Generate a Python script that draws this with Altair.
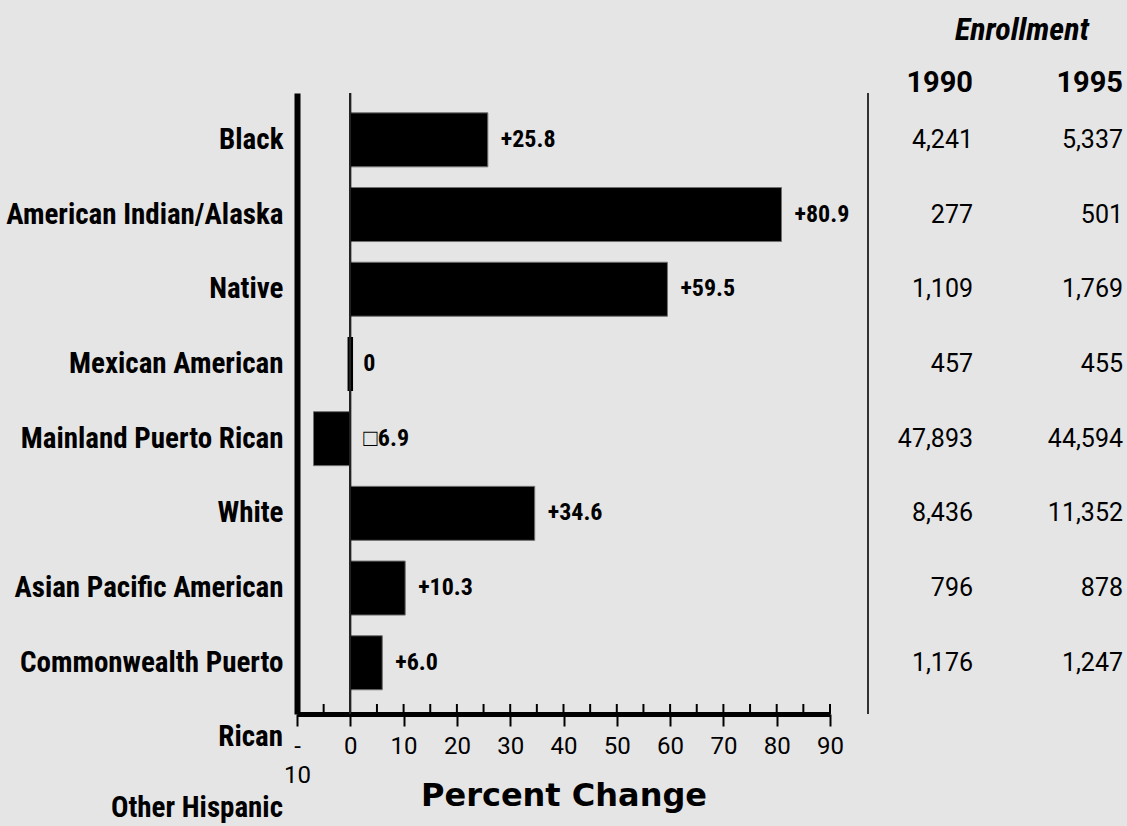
import altair as alt
import pandas as pd

# Percent change in enrollment, 1990 -> 1995, with the raw enrollment counts
groups = [
    "Black",
    "American Indian/Alaska",
    "Native",
    "Mexican American",
    "Mainland Puerto Rican",
    "White",
    "Asian Pacific American",
    "Commonwealth Puerto",
]
pct_change = [25.8, 80.9, 59.5, 0.0, -6.9, 34.6, 10.3, 6.0]
pct_labels = ["+25.8", "+80.9", "+59.5", "0", "\u25a16.9", "+34.6", "+10.3", "+6.0"]
enroll_1990 = [4241, 277, 1109, 457, 47893, 8436, 796, 1176]
enroll_1995 = [5337, 501, 1769, 455, 44594, 11352, 878, 1247]
years = ["1990", "1995"]
x_ticks = [-10, 0, 10, 20, 30, 40, 50, 60, 70, 80, 90]
minor_ticks = [-5, 5, 10, 15, 20, 25, 30, 35, 40, 45, 50, 55, 60, 65, 70, 75, 80, 85, 90]
wrapped_labels = ["Rican", "Other Hispanic"]

W, H = 533, 621
NARROW = "Roboto Condensed, Roboto, sans-serif"
PLAIN = "Roboto, sans-serif"

df = pd.DataFrame({
    "group": groups,
    "pct": pct_change,
    "label": pct_labels,
    "1990": enroll_1990,
    "1995": enroll_1995,
})
ticks_df = pd.DataFrame({"t": minor_ticks})
years_df = pd.DataFrame({"year": years})

x_scale = alt.Scale(domain=[-10, 90], nice=False, zero=False)
y_scale = alt.Scale(domain=groups, paddingInner=0.277, paddingOuter=0.295, align=0.45)

x_axis = alt.Axis(
    values=x_ticks,
    labelExpr="datum.value == -10 ? ['-', '10'] : datum.label",
    labelFont=PLAIN, labelFontSize=24, labelColor="black",
    labelPadding=8, labelLineHeight=29, labelFlush=False, labelOverlap=False,
    domainColor="black", domainWidth=5,
    tickColor="black", tickWidth=2, tickSize=12,
    grid=False,
    title="Percent Change",
    titleFont="DejaVu Sans", titleFontWeight="bold", titleFontSize=32,
    titleColor="black", titleBaseline="alphabetic", titleY=91,
)
y_axis = alt.Axis(
    title=None, ticks=False,
    labelFont=NARROW, labelFontWeight="bold", labelFontSize=29, labelColor="black",
    labelPadding=14, labelLimit=0,
    domainColor="black", domainWidth=6,
    grid=False,
)

base = alt.Chart(df)

bars = base.transform_filter("datum.pct != 0").mark_bar(
    color="black", stroke="#707070", strokeWidth=1
).encode(
    x=alt.X("pct:Q", scale=x_scale, axis=x_axis),
    y=alt.Y("group:N", scale=y_scale, axis=y_axis, sort=groups),
)

# a change that rounds to zero is drawn as a thin sliver on the zero line
zero_bars = base.transform_filter("datum.pct == 0").mark_bar(
    color="black", stroke="black", strokeWidth=5.5
).encode(
    x=alt.X("pct:Q", scale=x_scale),
    y=alt.Y("group:N", scale=y_scale, sort=groups),
)

value_text = base.transform_calculate(
    lx="max(datum.pct, 0)"
).mark_text(
    align="left", baseline="middle", dx=13,
    font=NARROW, fontWeight="bold", fontSize=24, color="black",
).encode(
    x=alt.X("lx:Q", scale=x_scale),
    y=alt.Y("group:N", scale=y_scale, sort=groups),
    text="label:N",
)

zero_line = base.mark_rule(color="#222222", strokeWidth=1.5).encode(
    x=alt.datum(0, scale=x_scale), y=alt.value(0), y2=alt.value(H)
)

minor = alt.Chart(ticks_df).mark_rule(color="black", strokeWidth=2).encode(
    x=alt.X("t:Q", scale=x_scale), y=alt.value(H - 10), y2=alt.value(H)
)

divider = base.mark_rule(color="#333333", strokeWidth=1.5).encode(
    x=alt.value(571), y=alt.value(0), y2=alt.value(H)
)

wrap1 = alt.Chart(pd.DataFrame({"s": [wrapped_labels[0]]})).mark_text(
    align="right", baseline="middle",
    font=NARROW, fontWeight="bold", fontSize=29, color="black",
).encode(x=alt.value(-14), y=alt.value(644), text="s:N")

wrap2 = alt.Chart(pd.DataFrame({"s": [wrapped_labels[1]]})).mark_text(
    align="right", baseline="middle",
    font=NARROW, fontWeight="bold", fontSize=29, color="black",
).encode(x=alt.value(-14), y=alt.value(715), text="s:N")

plot = alt.layer(bars, zero_bars, zero_line, minor, divider, value_text, wrap1, wrap2)

# enrollment table on the right
col_scale = alt.Scale(domain=years, range=[676, 826], padding=0)

table = base.transform_fold(years, as_=["year", "n"]).mark_text(
    align="right", baseline="middle", font=PLAIN, fontSize=25, color="black"
).encode(
    x=alt.X("year:N", scale=col_scale, axis=None),
    y=alt.Y("group:N", scale=y_scale, axis=y_axis, sort=groups),
    text=alt.Text("n:Q", format=","),
)

headers = alt.Chart(years_df).mark_text(
    align="right", baseline="middle", font=PLAIN, fontWeight="bold",
    fontSize=29, color="black"
).encode(
    x=alt.X("year:N", scale=col_scale, axis=None),
    y=alt.value(-10),
    text="year:N",
)

enroll_title = alt.Chart(pd.DataFrame({"s": ["Enrollment"]})).mark_text(
    align="center", baseline="middle", font=NARROW, fontWeight="bold",
    fontStyle="italic", fontSize=32, color="black"
).encode(x=alt.value(725), y=alt.value(-63), text="s:N")

right = alt.layer(table, headers, enroll_title)

chart = alt.layer(plot, right).resolve_scale(x="independent").properties(
    width=W, height=H,
    padding={"left": 297, "top": 93, "right": 297, "bottom": 112},
    autosize=alt.AutoSizeParams(type="none"),
    background="#e5e5e5",
).configure_view(stroke=None)

chart.save("out.html", embed_options={"renderer": "svg", "actions": False})
